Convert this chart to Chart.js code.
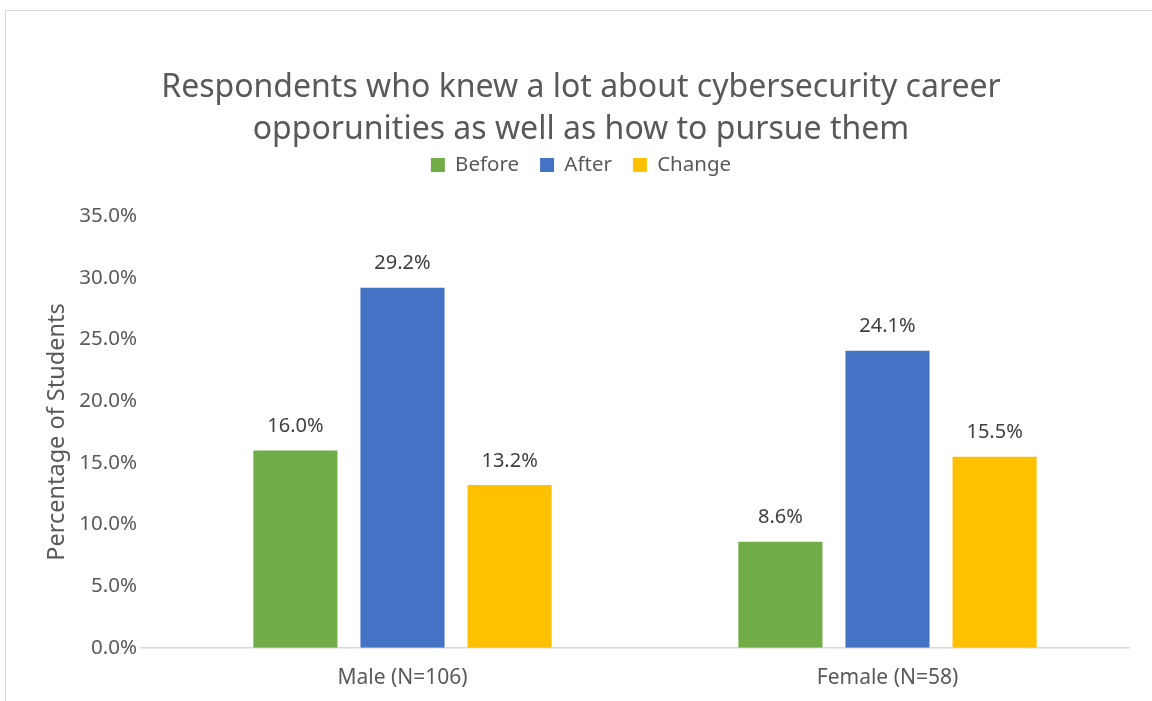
<!DOCTYPE html>
<html>
<head>
<meta charset="utf-8">
<script src="https://cdn.jsdelivr.net/npm/chart.js@4"></script>
<style>
  html, body { margin: 0; padding: 0; background: #fff; }
  #frame { position: absolute; left: 5px; top: 10px; width: 1160px; height: 700px; border: 1px solid #d9d9d9; }
  #wrap { position: absolute; left: 0; top: 0; width: 1152px; height: 701px; }
</style>
</head>
<body>
<div id="frame"></div>
<div id="wrap"><canvas id="chart"></canvas></div>
<script>
const categories = ['Male (N=106)', 'Female (N=58)'];
const seriesNames = ['Before', 'After', 'Change'];
const beforeValues = [16.0, 8.6];
const afterValues = [29.2, 24.1];
const changeValues = [13.2, 15.5];
const yTicks = [0, 5, 10, 15, 20, 25, 30, 35];

const FONT = '"Noto Sans", "Open Sans", sans-serif';
const GREY = '#595959';

// etiquettes de valeur au-dessus des barres
const valueLabels = {
    id: 'valueLabels',
    afterDatasetsDraw: (chart) => {
        const { ctx } = chart;
        ctx.save();
        ctx.font = '20px ' + FONT;
        ctx.fillStyle = '#404040';
        ctx.textAlign = 'center';
        ctx.textBaseline = 'middle';
        chart.data.datasets.forEach((ds, i) => {
            chart.getDatasetMeta(i).data.forEach((bar, j) => {
                ctx.fillText(ds.data[j].toFixed(1) + '%', bar.x, bar.y - 24);
            });
        });
        ctx.restore();
    }
};

// ligne de base prolongée vers la gauche
const baseLine = {
    id: 'baseLine',
    beforeDatasetsDraw: (chart) => {
        const { ctx, chartArea } = chart;
        const y = chart.scales.y.getPixelForValue(0);
        ctx.save();
        ctx.strokeStyle = '#d9d9d9';
        ctx.lineWidth = 1.5;
        ctx.beginPath();
        ctx.moveTo(chartArea.left - 20, y);
        ctx.lineTo(chartArea.right, y);
        ctx.stroke();
        ctx.restore();
    }
};

new Chart(document.getElementById('chart'), {
    type: 'bar',
    data: {
        labels: categories,
        datasets: [
            { label: seriesNames[0], data: beforeValues, backgroundColor: '#70ad47' },
            { label: seriesNames[1], data: afterValues, backgroundColor: '#4472c4' },
            { label: seriesNames[2], data: changeValues, backgroundColor: '#ffc000' }
        ]
    },
    options: {
        responsive: true,
        maintainAspectRatio: false,
        animation: false,
        datasets: { bar: { categoryPercentage: 0.6625, barPercentage: 0.785 } },
        layout: { padding: { left: 32, right: 22, top: 0, bottom: 0 } },
        plugins: {
            title: {
                display: true,
                text: ['Respondents who knew a lot about cybersecurity career', 'opporunities as well as how to pursue them'],
                color: GREY,
                font: { family: FONT, size: 32, weight: 'normal', lineHeight: 1.34 },
                padding: { top: 66, bottom: -18 }
            },
            // espace vide entre la légende et le graphique
            subtitle: {
                display: true,
                text: ' ',
                weight: 500,
                font: { size: 2, lineHeight: 1 },
                padding: { top: 29, bottom: 0 }
            },
            legend: {
                position: 'top',
                labels: {
                    color: GREY,
                    font: { family: FONT, size: 20.5 },
                    boxWidth: 14,
                    boxHeight: 14,
                    padding: 21
                }
            },
            tooltip: { enabled: false }
        },
        scales: {
            x: {
                grid: { display: false },
                border: { display: false },
                ticks: { color: GREY, font: { family: FONT, size: 21 }, padding: 10 }
            },
            y: {
                min: 0,
                max: 35,
                afterFit: (scale) => { scale.width = 128; },
                afterBuildTicks: (scale) => { scale.ticks = yTicks.map(v => ({ value: v })); },
                grid: { display: false },
                border: { display: false },
                ticks: {
                    color: GREY,
                    font: { family: FONT, size: 20.5 },
                    padding: 15,
                    callback: (v) => v.toFixed(1) + '%'
                },
                title: {
                    display: true,
                    text: 'Percentage of Students',
                    color: GREY,
                    font: { family: FONT, size: 23.5 },
                    padding: { top: 11, bottom: 0 }
                }
            }
        }
    },
    plugins: [valueLabels, baseLine]
});
</script>
</body>
</html>
